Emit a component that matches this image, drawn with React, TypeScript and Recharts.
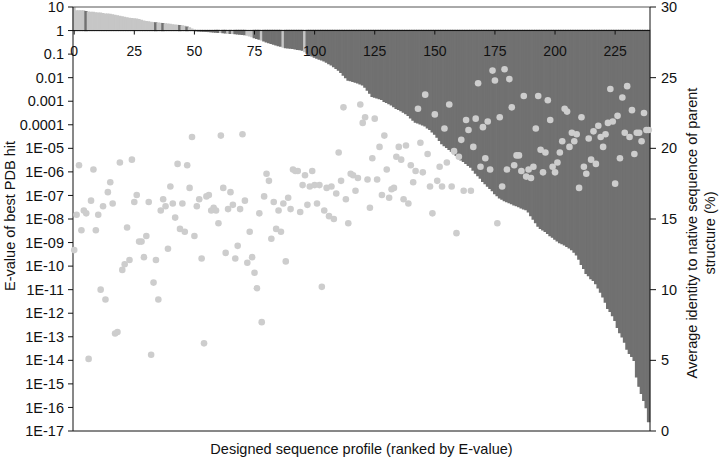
import { Bar, Cell, ComposedChart, ReferenceLine, Scatter, XAxis, YAxis } from 'recharts'

// Ranked design profiles: E-value of best PDB hit (bars, log axis) and
// average identity to the parent's native sequence (dots, right axis).
const eValue = [
  10, 6.8, 6.8, 6.8, 6.8, 6.3, 6.0, 5.9, 5.8, 5.6,
  5.5, 5.4, 5.2, 5.0, 4.9, 4.8, 4.6, 4.4, 4.2, 4.0,
  3.8, 3.6, 3.4, 3.3, 3.2, 3.1, 3.0, 2.9, 2.7, 2.5,
  2.4, 2.3, 2.2, 2.15, 2.1, 2.05, 2.0, 1.95, 1.9, 1.85,
  1.8, 1.75, 1.7, 1.65, 1.6, 1.55, 1.5, 1.4, 1.3, 1.15,
  1.05, 0.98, 0.96, 0.95, 0.94, 0.93, 0.92, 0.9, 0.88, 0.87,
  0.85, 0.84, 0.82, 0.8, 0.79, 0.77, 0.76, 0.74, 0.72, 0.71,
  0.69, 0.67, 0.65, 0.6, 0.55, 0.5, 0.47, 0.44, 0.41, 0.37,
  0.33, 0.31, 0.29, 0.27, 0.25, 0.23, 0.22, 0.2, 0.19, 0.185,
  0.18, 0.175, 0.17, 0.16, 0.155, 0.15, 0.13, 0.11, 0.095, 0.085,
  0.075, 0.068, 0.062, 0.057, 0.052, 0.046, 0.04, 0.035, 0.03, 0.025,
  0.021, 0.017, 0.013, 0.01, 0.008, 0.0075, 0.007, 0.0065, 0.006, 0.0055,
  0.005, 0.004, 0.003, 0.0022, 0.0016, 0.0015, 0.0014, 0.0013, 0.0012, 0.001,
  9e-4, 8e-4, 7e-4, 6e-4, 5e-4, 4.5e-4, 4e-4, 3.5e-4, 3e-4, 2.5e-4,
  2e-4, 1.6e-4, 1.3e-4, 1.2e-4, 1.1e-4, 1e-4, 9e-5, 7.5e-5, 6.5e-5, 5e-5,
  4e-5, 3e-5, 2.2e-5, 1.6e-5, 1.3e-5, 1.1e-5, 9e-6, 7.5e-6, 6e-6, 5e-6,
  4e-6, 3.3e-6, 2.8e-6, 2.3e-6, 1.9e-6, 1.6e-6, 1.2e-6, 9e-7, 7e-7, 5.5e-7,
  4e-7, 3.2e-7, 2.5e-7, 2e-7, 1.6e-7, 1.2e-7, 1e-7, 8e-8, 7e-8, 6e-8,
  5.5e-8, 5e-8, 4.5e-8, 4e-8, 3.7e-8, 3.4e-8, 3e-8, 2.7e-8, 2.5e-8, 2e-8,
  1.4e-8, 1e-8, 7e-9, 5e-9, 4e-9, 3.5e-9, 3e-9, 2.5e-9, 2e-9, 1.7e-9,
  1.4e-9, 1.2e-9, 1e-9, 9e-10, 8e-10, 7e-10, 6e-10, 5e-10, 4e-10, 3e-10,
  2e-10, 1.2e-10, 8e-11, 5e-11, 4e-11, 3e-11, 2.5e-11, 1.8e-11, 1.2e-11, 8e-12,
  5e-12, 3e-12, 1.6e-12, 1.2e-12, 8e-13, 5e-13, 2.5e-13, 1.5e-13, 1e-13, 6e-14,
  3e-14, 2e-14, 1.5e-14, 1e-14, 2e-15, 8e-16, 4e-16, 2e-16, 1e-16, 2.5e-17,
]

const identity = [
  12.8, 15.3, 18.8, 14.2, 15.6, 15.4, 5.1, 16.3, 18.5, 14.2,
  15.3, 10.0, 15.9, 9.3, 16.9, 17.6, 16.1, 6.9, 7.0, 19.0,
  11.4, 11.8, 14.4, 12.1, 19.2, 16.2, 16.7, 13.4, 13.4, 12.3,
  13.8, 16.2, 5.4, 10.5, 12.1, 9.3, 15.6, 16.4, 15.9, 12.9,
  17.3, 16.1, 15.1, 18.9, 14.3, 16.1, 14.1, 18.8, 17.2, 20.8,
  13.8, 15.9, 16.4, 12.2, 6.2, 16.6, 16.7, 15.6, 15.8, 15.6,
  14.7, 20.9, 17.2, 12.6, 15.7, 16.9, 16.0, 12.2, 13.1, 15.7,
  21.0, 16.3, 11.9, 14.1, 12.3, 11.2, 10.1, 15.4, 7.7, 16.6,
  18.2, 17.7, 13.6, 16.2, 14.3, 15.6, 14.1, 16.1, 12.0, 16.5,
  15.7, 18.5, 18.4, 18.4, 15.5, 17.4, 18.1, 16.0, 17.3, 18.4,
  17.4, 16.1, 17.4, 10.2, 15.6, 17.2, 15.2, 17.3, 15.0, 16.8,
  19.7, 17.7, 22.9, 16.4, 14.7, 18.2, 18.1, 17.0, 17.9, 23.1,
  21.8, 22.2, 17.8, 15.8, 19.3, 22.1, 17.8, 20.1, 16.7, 20.9,
  18.5, 16.5, 17.1, 17.2, 19.4, 20.1, 19.2, 16.4, 20.2, 16.1,
  18.8, 17.6, 18.4, 22.8, 20.4, 18.3, 23.8, 19.6, 17.3, 15.4,
  22.4, 17.7, 18.7, 17.3, 21.4, 19.0, 23.1, 17.3, 19.8, 14.0,
  19.4, 20.6, 17.0, 22.0, 21.3, 17.0, 20.1, 22.1, 24.6, 18.7,
  21.5, 19.3, 21.9, 18.5, 25.5, 24.8, 14.7, 22.2, 17.3, 25.6,
  18.5, 24.9, 22.9, 18.8, 19.5, 19.5, 18.4, 23.7, 18.0, 18.5,
  17.9, 18.7, 21.4, 23.7, 19.9, 18.3, 19.7, 23.4, 22.0, 18.7,
  18.3, 19.0, 19.7, 20.5, 22.8, 22.6, 20.1, 21.1, 20.5, 21.0,
  17.2, 22.2, 18.7, 18.2, 20.7, 19.2, 21.2, 18.9, 21.6, 20.8,
  20.1, 21.0, 21.8, 24.2, 21.9, 17.5, 22.3, 19.3, 23.6, 21.1,
  24.4, 20.8, 22.7, 19.6, 21.1, 21.1, 20.5, 22.5, 21.3, 21.3,
]

// bars drawn in the opposite shade to their neighbours
const contrastBars = [5, 34, 37, 44, 47, 61, 64, 66, 72, 73, 74, 78, 87, 96]

const rankTicks = [0, 25, 50, 75, 100, 125, 150, 175, 200, 225]
const eTicks = [
  10, 1, 0.1, 0.01, 0.001, 0.0001, 1e-5, 1e-6, 1e-7, 1e-8, 1e-9, 1e-10,
  1e-11, 1e-12, 1e-13, 1e-14, 1e-15, 1e-16, 1e-17,
]
const identityTicks = [0, 5, 10, 15, 20, 25, 30]

const data = eValue.map((e, i) => ({ rank: i, range: [1, e], identity: identity[i] }))

const W = 720
const H = 459
const TOP_H = 1 // the top category axis needs a non-zero box to be drawn
const MARGIN = { top: 6, right: 30, bottom: 0, left: 13 }
const LEFT_W = 60
const RIGHT_W = 40
const BOTTOM_H = 28
const PLOT_T = MARGIN.top + TOP_H
const PLOT_L = MARGIN.left + LEFT_W
const PLOT_R = W - MARGIN.right - RIGHT_W
const PLOT_H = H - PLOT_T - MARGIN.bottom - BOTTOM_H
// pixel row of E-value = 1, where the category axis sits
const ONE_Y = PLOT_T + (PLOT_H * Math.log10(10 / 1)) / Math.log10(10 / 1e-17)

const FONT = '"Liberation Sans", Arial, Helvetica, sans-serif'
const INK = '#111'
const DARK = '#717171'
const LIGHT = '#c6c6c6'

const fmtE = (v: number) => {
  const e = Math.round(Math.log10(v))
  if (e >= 0) return String(Math.round(v))
  if (e >= -4) return v.toFixed(-e)
  return `1E-${String(-e).padStart(2, '0')}`
}

const barColor = (e: number, i: number) => {
  const above = e > 1
  const flip = contrastBars.includes(i)
  return above !== flip ? LIGHT : DARK
}

const RankTick = (p: any) => (
  <g>
    <line x1={p.x} x2={p.x} y1={ONE_Y} y2={ONE_Y + 4} stroke={INK} />
    <text
      x={p.x}
      y={ONE_Y + 20}
      textAnchor="middle"
      dominantBaseline="central"
      fontSize={14}
      fontFamily={FONT}
      fill={INK}
    >
      {p.payload.value}
    </text>
  </g>
)

const Dot = (p: any) => <circle cx={p.cx} cy={p.cy} r={3.3} fill="#cdcdcd" />

const titleStyle = { fontSize: 14.5, fontFamily: FONT, fill: INK }

const LeftTitle = () => {
  const cy = PLOT_T + PLOT_H / 2 - 3
  return (
    <text x={10} y={cy} transform={`rotate(-90 10 ${cy})`} textAnchor="middle" dominantBaseline="central" {...titleStyle}>
      E-value of best PDB hit
    </text>
  )
}

const RightTitle = () => {
  const cy = PLOT_T + PLOT_H / 2 + 14
  const x1 = PLOT_R + 42
  const x2 = PLOT_R + 60
  return (
    <g>
      <text x={x1} y={cy} transform={`rotate(-90 ${x1} ${cy})`} textAnchor="middle" dominantBaseline="central" {...titleStyle}>
        Average identity to native sequence of parent
      </text>
      <text x={x2} y={cy} transform={`rotate(-90 ${x2} ${cy})`} textAnchor="middle" dominantBaseline="central" {...titleStyle}>
        structure (%)
      </text>
    </g>
  )
}

const BottomTitle = () => (
  <text x={(PLOT_L + PLOT_R) / 2} y={H - 10} textAnchor="middle" dominantBaseline="central" {...titleStyle}>
    Designed sequence profile (ranked by E-value)
  </text>
)

export default function App() {
  return (
    <div style={{ position: 'absolute', left: 0, top: 0, width: W, height: H, background: '#fff' }}>
      <ComposedChart width={W} height={H} data={data} margin={MARGIN} barCategoryGap={0} barGap={0}>
        <XAxis
          xAxisId="top"
          dataKey="rank"
          orientation="top"
          height={TOP_H}
          ticks={rankTicks}
          interval={0}
          tickLine={false}
          axisLine={{ stroke: '#555' }}
          tick={(p: any) => <RankTick {...p} />}
        />
        <XAxis
          xAxisId="bottom"
          dataKey="rank"
          height={BOTTOM_H}
          tick={false}
          tickLine={false}
          axisLine={{ stroke: INK }}
          label={<BottomTitle />}
        />
        <YAxis
          yAxisId="e"
          scale="log"
          domain={[1e-17, 10]}
          allowDataOverflow
          ticks={eTicks}
          interval={0}
          width={LEFT_W}
          tickFormatter={fmtE}
          tickSize={5}
          tickMargin={4}
          tick={{ fontSize: 14.5, fontFamily: FONT, fill: INK }}
          axisLine={{ stroke: INK }}
          tickLine={{ stroke: INK }}
          label={<LeftTitle />}
        />
        <YAxis
          yAxisId="id"
          orientation="right"
          domain={[0, 30]}
          ticks={identityTicks}
          interval={0}
          width={RIGHT_W}
          tickSize={6}
          tickMargin={5}
          tick={{ fontSize: 14.5, fontFamily: FONT, fill: INK }}
          axisLine={{ stroke: INK }}
          tickLine={{ stroke: INK }}
          label={<RightTitle />}
        />
        <Bar xAxisId="top" yAxisId="e" dataKey="range" isAnimationActive={false}>
          {data.map((d, i) => {
            const c = barColor(eValue[i], i)
            return <Cell key={i} fill={c} stroke={c} strokeWidth={1.4} />
          })}
        </Bar>
        <ReferenceLine xAxisId="top" yAxisId="e" y={1} stroke={INK} />
        <Scatter
          xAxisId="top"
          yAxisId="id"
          dataKey="identity"
          isAnimationActive={false}
          shape={(p: any) => <Dot {...p} />}
        />
      </ComposedChart>
    </div>
  )
}
